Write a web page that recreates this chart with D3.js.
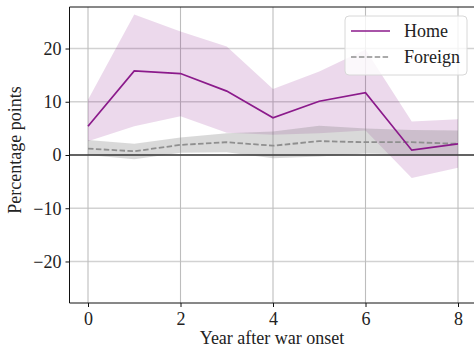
<!DOCTYPE html>
<meta charset="utf-8">
<style>
body { margin: 0; background: #fff; }
text { font-family: "Liberation Serif", "DejaVu Serif", serif; fill: #222; }
</style>
<body>
<script src="https://d3js.org/d3.v7.min.js"></script>
<script>

// values
var years = [0, 1, 2, 3, 4, 5, 6, 7, 8];
var home = [5.4, 15.8, 15.3, 12.0, 7.0, 10.1, 11.7, 0.9, 2.1];
var homeLo = [2.6, 5.4, 7.3, 4.2, 3.8, 4.1, 4.6, -4.3, -2.4];
var homeHi = [10.4, 26.4, 23.2, 20.4, 12.4, 15.7, 19.8, 6.3, 6.7];
var foreign = [1.2, 0.7, 1.9, 2.4, 1.75, 2.6, 2.4, 2.4, 2.1];
var foreignLo = [0.0, -0.8, 0.4, 0.5, -0.6, -0.3, 0.3, 0.1, 0.0];
var foreignHi = [2.8, 2.1, 3.3, 4.1, 4.4, 5.5, 5.0, 4.7, 4.6];
var xTicks = [0, 2, 4, 6, 8];
var yTicks = [-20, -10, 0, 10, 20];
var seriesNames = ["Home", "Foreign"];

var W = 474, H = 348;
var plotLeft = 69.5, plotTop = 7, plotBottom = 303;
var fontSize = "18px";

var svg = d3.select("body").append("svg")
  .attr("width", W)
  .attr("height", H);

var x = d3.scaleLinear().domain([-0.4, 8.4]).range([plotLeft, plotLeft + 8.8 * 46.25]);
var y = d3.scaleLinear().domain([-27.8, 27.8]).range([plotBottom, plotTop]);

// grid
svg.append("g").selectAll("line")
  .data(yTicks).enter().append("line")
  .attr("x1", plotLeft).attr("x2", W)
  .attr("y1", function(d) { return y(d); })
  .attr("y2", function(d) { return y(d); })
  .attr("stroke", "#d2d2d2").attr("stroke-width", 1.6);

svg.append("g").selectAll("line")
  .data(xTicks).enter().append("line")
  .attr("x1", function(d) { return x(d); })
  .attr("x2", function(d) { return x(d); })
  .attr("y1", plotTop).attr("y2", plotBottom)
  .attr("stroke", "#bdbdbd").attr("stroke-width", 1.1);

// bands
var band = function(lo, hi) {
  return d3.area()
    .x(function(d, i) { return x(years[i]); })
    .y0(function(d, i) { return y(lo[i]); })
    .y1(function(d, i) { return y(hi[i]); })(years);
};

svg.append("path").attr("d", band(homeLo, homeHi))
  .attr("fill", "#800080").attr("fill-opacity", 0.15);
svg.append("path").attr("d", band(foreignLo, foreignHi))
  .attr("fill", "#808080").attr("fill-opacity", 0.3);

// zero line
svg.append("line")
  .attr("x1", plotLeft).attr("x2", W)
  .attr("y1", y(0)).attr("y2", y(0))
  .attr("stroke", "#3a3a3a").attr("stroke-width", 1.5);

var line = function(vals) {
  return d3.line()
    .x(function(d, i) { return x(years[i]); })
    .y(function(d, i) { return y(vals[i]); })(years);
};

svg.append("path").attr("d", line(foreign))
  .attr("fill", "none").attr("stroke", "#8f8f8f")
  .attr("stroke-width", 1.8).attr("stroke-dasharray", "5.5,2.4");

svg.append("path").attr("d", line(home))
  .attr("fill", "none").attr("stroke", "#8b1a8b")
  .attr("stroke-width", 1.7);

// spines
svg.append("path")
  .attr("d", "M" + W + "," + plotTop + "H" + plotLeft + "V" + plotBottom + "H" + W)
  .attr("fill", "none").attr("stroke", "#111").attr("stroke-width", 1);

// axes
var xAxis = svg.append("g")
  .attr("transform", "translate(0," + plotBottom + ")")
  .call(d3.axisBottom(x).tickValues(xTicks).tickSize(4).tickPadding(5));
var yAxis = svg.append("g")
  .attr("transform", "translate(" + plotLeft + ",0)")
  .call(d3.axisLeft(y).tickValues(yTicks).tickSize(4).tickPadding(4)
    .tickFormat(function(d) { return d < 0 ? "\u2212" + (-d) : d; }));

[xAxis, yAxis].forEach(function(a) {
  a.select(".domain").remove();
  a.selectAll("line").attr("stroke", "#111");
  a.selectAll("text")
    .style("font-family", "Liberation Serif")
    .style("font-size", fontSize)
    .attr("fill", "#222");
});

svg.append("text")
  .attr("x", 272).attr("y", 344)
  .attr("text-anchor", "middle")
  .style("font-size", fontSize)
  .text("Year after war onset");

svg.append("text")
  .attr("transform", "translate(21,150) rotate(-90)")
  .attr("text-anchor", "middle")
  .style("font-size", fontSize)
  .text("Percentage points");

// legend
var lg = svg.append("g");
lg.append("rect")
  .attr("x", 345).attr("y", 16).attr("width", 122).attr("height", 59)
  .attr("rx", 4)
  .attr("fill", "#fff").attr("fill-opacity", 0.8)
  .attr("stroke", "#d8d8d8");

seriesNames.forEach(function(name, i) {
  var yy = 31 + i * 26;
  lg.append("line")
    .attr("x1", 351).attr("x2", 390)
    .attr("y1", yy).attr("y2", yy)
    .attr("stroke", i == 0 ? "#8b1a8b" : "#8f8f8f")
    .attr("stroke-width", 1.7)
    .attr("stroke-dasharray", i == 0 ? null : "5.5,2.4");
  lg.append("text")
    .attr("x", 404).attr("y", yy + 6)
    .style("font-size", fontSize)
    .text(name);
});

</script>
